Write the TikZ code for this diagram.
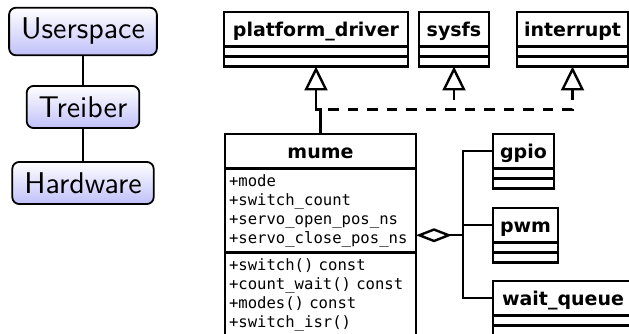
\documentclass[tikz,border=0pt]{standalone}
\usepackage{fontspec}
\usetikzlibrary{arrows.meta,calc}

\newfontfamily\umlsans{DejaVu Sans}
\newfontfamily\umlmono{DejaVu Sans Mono}
\newfontfamily\tierfont{lmsans10-regular}[Extension=.otf]
\definecolor{tierblue}{RGB}{192,192,250}

\tikzset{
  tier/.style={draw, line width=1.8pt, rounded corners=7pt,
    top color=white, bottom color=tierblue,
    font=\tierfont\fontsize{30}{36}\selectfont,
    inner xsep=12pt, inner ysep=10.5pt},
  tierlink/.style={line width=1.8pt},
  umlhead/.style={draw, line width=2.4pt, outer sep=0pt, inner sep=0pt,
    minimum height=34.5pt, text height=14.4pt, text depth=0pt,
    font=\umlsans\bfseries\fontsize{19}{23}\selectfont, anchor=north west},
  umlpart/.style={draw, line width=2.4pt, outer sep=0pt, inner sep=0pt,
    minimum height=10pt, anchor=north},
  umlbody/.style={draw, line width=2.4pt, outer sep=0pt, inner xsep=4pt,
    inner ysep=0pt, anchor=north, align=left,
    font=\umlmono\fontsize{15.6}{19}\selectfont},
  inherit/.style={line width=2.4pt,
    -{Triangle[open, length=24pt, width=23pt, line width=2.4pt]}},
  realize/.style={line width=2.4pt, dash pattern=on 10.5pt off 9pt,
    {Triangle[open, length=24pt, width=23pt, line width=2.4pt]}-},
  aggregate/.style={line width=2.4pt,
    -{Diamond[open, length=36pt, width=14pt, line width=2.4pt]}},
  assoc/.style={line width=2.4pt},
}

% class with a name compartment and two empty compartments
\newcommand\umlbox[5]{%
  \node[umlhead, minimum width=#4] (#1) at (#2,#3) {#5};
  \node[umlpart, minimum width=#4] (#1-a) at (#1.south) {};
  \node[umlpart, minimum width=#4] (#1-b) at (#1-a.south) {};
}

\begin{document}
\begin{tikzpicture}[x=1pt, y=-1pt]
  \useasboundingbox (0,0) rectangle (629,334);

  % layer stack
  \node[tier] (user) at (83,31.5) {Userspace};
  \node[tier] (drv)  at (83,107)  {Treiber};
  \node[tier] (hw)   at (83,183)  {Hardware};
  \draw[tierlink] (user) -- (drv);
  \draw[tierlink] (drv) -- (hw);

  % base classes
  \umlbox{pd}{224}{12}{184pt}{platform\_driver}
  \umlbox{sysfs}{419}{12}{70pt}{sysfs}
  \umlbox{int}{517}{12}{111pt}{interrupt}

  % driver class
  \node[umlhead, minimum width=191pt] (mume) at (225,134) {mume};
  \node[umlbody, minimum height=84pt, text width=183pt] (mume-attr) at (mume.south)
    {+mode\\+switch\_count\\+servo\_open\_pos\_ns\\+servo\_close\_pos\_ns};
  \node[umlbody, minimum height=84pt, text width=183pt] (mume-ops) at (mume-attr.south)
    {+switch() const\\+count\_wait() const\\+modes() const\\+switch\_isr()};

  % aggregated parts
  \umlbox{gpio}{493}{134}{61pt}{gpio}
  \umlbox{pwm}{493}{208}{65pt}{pwm}
  \umlbox{wq}{493}{281}{140pt}{wait\_queue}

  % generalisation and realisation
  \coordinate (jn) at ($(pd-b.south)+(0,43)$);
  \draw[inherit] (mume.north) |- (jn) -- (pd-b.south);
  \draw[realize] (int-b.south) |- (jn);
  \draw[realize] (sysfs-b.south) -- (sysfs-b.south |- jn);

  % aggregation
  \coordinate (mume-e) at ($(mume.north east)!0.5!(mume-ops.south east)$);
  \coordinate (hub) at ($(mume-e)+(47,0)$);
  \draw[aggregate] (hub) -- (mume-e);
  \draw[assoc] (gpio.west) -| (hub);
  \draw[assoc] (pwm.west) -- (pwm.west -| hub);
  \draw[assoc] (wq.west) -| (hub);
\end{tikzpicture}
\end{document}
